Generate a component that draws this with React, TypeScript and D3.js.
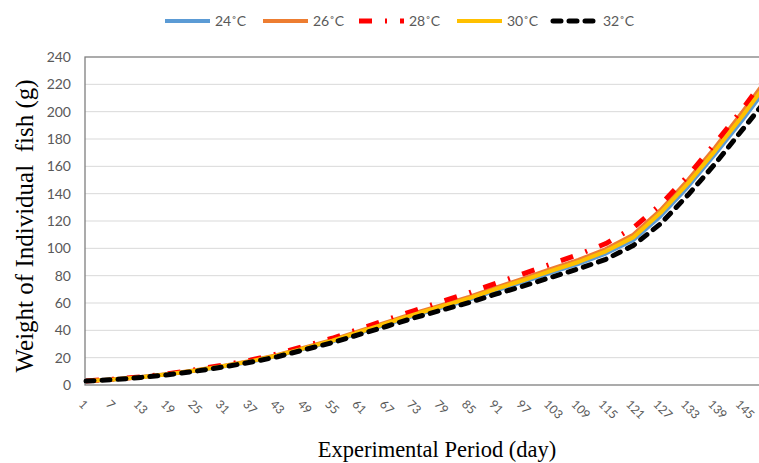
import * as d3 from "d3";
import { useEffect, useRef } from "react";

// days on the category axis (labels every 6 days)
const days = [1, 7, 13, 19, 25, 31, 37, 43, 49, 55, 61, 67, 73, 79, 85, 91, 97, 103, 109, 115, 121, 127, 133, 139, 145, 151];
const yTicks = [0, 20, 40, 60, 80, 100, 120, 140, 160, 180, 200, 220, 240];

const t24 = [3, 4, 5.6, 7.8, 10.4, 13.5, 17, 21.3, 26.6, 31.8, 38.1, 44.4, 50.7, 56.6, 62.4, 69.2, 75.5, 82.2, 88.6, 96.2, 106, 123.5, 145, 169, 194, 221];
const t26 = [3, 4.2, 5.8, 8, 10.8, 14, 17.6, 22, 27.5, 33, 39.5, 46, 52.5, 58.5, 64.5, 71.5, 78, 85, 91.5, 99.5, 110, 128, 150, 174, 200, 227];
const t28 = [3, 4.3, 6, 8.3, 11.2, 14.5, 18.2, 22.8, 28.5, 34.2, 41, 47.8, 54.5, 61, 67.5, 74.5, 81.5, 88.5, 95.5, 103.5, 115, 132, 153, 177, 202, 229];
const t30 = [3, 4.1, 5.7, 7.9, 10.6, 13.7, 17.3, 21.6, 27, 32.4, 38.8, 45.2, 51.6, 57.5, 63.4, 70.3, 76.7, 83.5, 90, 97.8, 108, 126, 147.5, 171.5, 197, 224];
const t32 = [2.9, 3.9, 5.5, 7.5, 10.1, 13.1, 16.6, 20.7, 25.9, 31, 37, 43, 49.2, 54.8, 60.3, 66.6, 72.5, 78.8, 85, 92, 102, 118, 139, 162, 187, 212];

const seriesNames = ["24˚C", "26˚C", "28˚C", "30˚C", "32˚C"];

const styles = [
  { color: "#5B9BD5", width: 4, dash: null, cap: "butt" },
  { color: "#ED7D31", width: 4, dash: null, cap: "butt" },
  { color: "#FF0000", width: 5, dash: "13,13,2,13", cap: "butt" },
  { color: "#FFC000", width: 4, dash: null, cap: "butt" },
  { color: "#000000", width: 5, dash: "8,8", cap: "round" },
];

export default function App() {
  const ref = useRef(null);

  useEffect(() => {
    const svg = d3.select(ref.current);
    svg.selectAll("*").remove();

    const left = 85, top = 57, bottom = 385;
    const x = d3.scaleLinear().domain([1, 151]).range([86, 770]);
    const y = d3.scaleLinear().domain([0, 240]).range([bottom, top]);

    // gridlines
    svg
      .append("g")
      .selectAll("line")
      .data(yTicks.slice(1, -1))
      .enter()
      .append("line")
      .attr("x1", left)
      .attr("x2", 780)
      .attr("y1", (d: number) => y(d))
      .attr("y2", (d: number) => y(d))
      .attr("stroke", "#D9D9D9")
      .attr("stroke-width", 1);

    // plot border
    svg
      .append("rect")
      .attr("x", left)
      .attr("y", top)
      .attr("width", 780 - left)
      .attr("height", bottom - top)
      .attr("fill", "none")
      .attr("stroke", "#7F7F7F")
      .attr("stroke-width", 1.3);

    // y tick labels
    svg
      .append("g")
      .selectAll("text")
      .data(yTicks)
      .enter()
      .append("text")
      .attr("x", 71)
      .attr("y", (d: number) => y(d))
      .attr("dy", "0.35em")
      .attr("text-anchor", "end")
      .attr("fill", "#595959")
      .style("font-family", "Lato, 'Liberation Sans', sans-serif")
      .style("font-size", "14px")
      .text((d: number) => d);

    // x tick labels, rotated
    svg
      .append("g")
      .selectAll("text")
      .data(days.slice(0, -1))
      .enter()
      .append("text")
      .attr("transform", (d: number) => `translate(${x(d) - 8},${bottom + 20}) rotate(45)`)
      .attr("text-anchor", "start")
      .attr("fill", "#595959")
      .style("font-family", "Lato, 'Liberation Sans', sans-serif")
      .style("font-size", "12px")
      .text((d: number) => d);

    // lines
    const all = [t24, t26, t28, t30, t32];
    const line = d3
      .line<number>()
      .x((_d, i) => x(days[i]))
      .y((d) => y(d));

    all.forEach((vals, i) => {
      const s = styles[i];
      const p = svg
        .append("path")
        .attr("d", line(vals))
        .attr("fill", "none")
        .attr("stroke", s.color)
        .attr("stroke-width", s.width)
        .attr("stroke-linejoin", "round")
        .attr("stroke-linecap", s.cap);
      if (s.dash) p.attr("stroke-dasharray", s.dash);
    });

    // legend
    const legendX = [165, 263, 359, 457, 553];
    const lg = svg.append("g");
    seriesNames.forEach((name, i) => {
      const s = styles[i];
      const lx = legendX[i];
      const seg = lg
        .append("line")
        .attr("x1", lx)
        .attr("x2", lx + 45)
        .attr("y1", 21)
        .attr("y2", 21)
        .attr("stroke", s.color)
        .attr("stroke-width", s.width)
        .attr("stroke-linecap", s.cap);
      if (s.dash) seg.attr("stroke-dasharray", s.dash);
      lg.append("text")
        .attr("x", lx + 50)
        .attr("y", 21)
        .attr("dy", "0.35em")
        .attr("fill", "#595959")
        .style("font-family", "Lato, 'Liberation Sans', sans-serif")
        .style("font-size", "14px")
        .text(name);
    });

    // axis titles
    svg
      .append("text")
      .attr("transform", "translate(33,226) rotate(-90)")
      .attr("text-anchor", "middle")
      .attr("fill", "#000")
      .style("font-family", "'Liberation Serif', serif")
      .style("font-size", "25px")
      .style("white-space", "pre")
      .text("Weight of Individual  fish (g)");

    svg
      .append("text")
      .attr("x", 437)
      .attr("y", 457)
      .attr("text-anchor", "middle")
      .attr("fill", "#000")
      .style("font-family", "'Liberation Serif', serif")
      .style("font-size", "22.5px")
      .text("Experimental Period (day)");
  }, []);

  return (
    <svg
      ref={ref}
      width={759}
      height={463}
      style={{ position: "absolute", left: 0, top: 0, background: "#fff" }}
    />
  );
}
